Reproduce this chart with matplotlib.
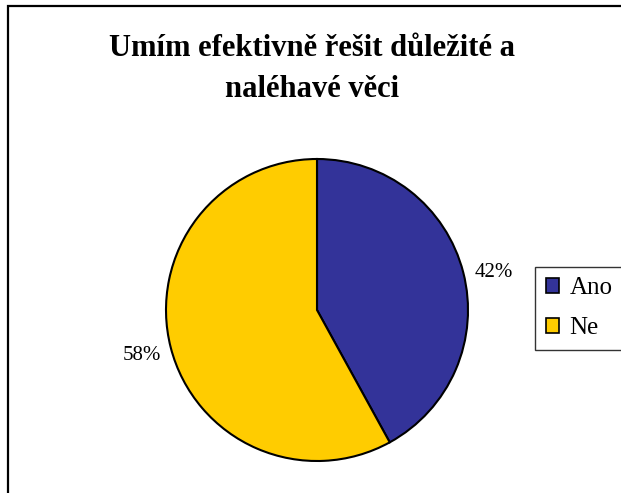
import matplotlib.pyplot as plt
from matplotlib.patches import Rectangle

labels = ['Ano', 'Ne']
shares = [42, 58]
colors = ['#333399', '#FFCC00']
title = 'Umím efektivně řešit důležité a\nnaléhavé věci'

plt.rcParams['font.family'] = ['Liberation Serif', 'DejaVu Serif']

W, H = 621, 493
fig = plt.figure(figsize=(W / 100, H / 100), dpi=100)

# outer chart frame (right/bottom edges run off the canvas)
fig.patches.append(Rectangle((7.5 / W, -0.05), 1.2, 1 - 5.5 / H + 0.05,
                             transform=fig.transFigure, fill=False,
                             edgecolor='black', linewidth=1.6))

fig.text(312 / W, 1 - 69 / H, title, ha='center', va='center',
         fontsize=22, fontweight='bold', linespacing=1.55)

cx, cy, r = 317, 310, 151
ax = fig.add_axes([(cx - r) / W, (H - cy - r) / H, 2 * r / W, 2 * r / H])
wedges, texts = ax.pie(shares, colors=colors, startangle=90, counterclock=False,
                       labels=[f'{v}%' for v in shares], labeldistance=1.2,
                       wedgeprops=dict(edgecolor='black', linewidth=1.5),
                       textprops=dict(fontsize=15))
for t in texts:
    t.set_ha('center')
    t.set_va('center')
# drop the right-hand label a little, as Excel does
x0, y0 = texts[0].get_position()
texts[0].set_position((x0 + 0.01, y0 - 0.05))
ax.set_xlim(-1, 1)
ax.set_ylim(-1, 1)
ax.set_aspect('auto')

handles = [Rectangle((0, 0), 1, 1, facecolor=c, edgecolor='black', linewidth=1.2)
           for c in colors]
leg = fig.legend(handles, labels, loc='upper left',
                 bbox_to_anchor=(535 / W, 1 - 267 / H), fontsize=18,
                 frameon=True, fancybox=False, edgecolor='black',
                 handlelength=0.55, handleheight=0.55, handletextpad=0.4,
                 labelspacing=0.72, borderpad=0.42, borderaxespad=0)
leg.get_frame().set_linewidth(1.0)

fig.savefig('out.png', dpi=100)
